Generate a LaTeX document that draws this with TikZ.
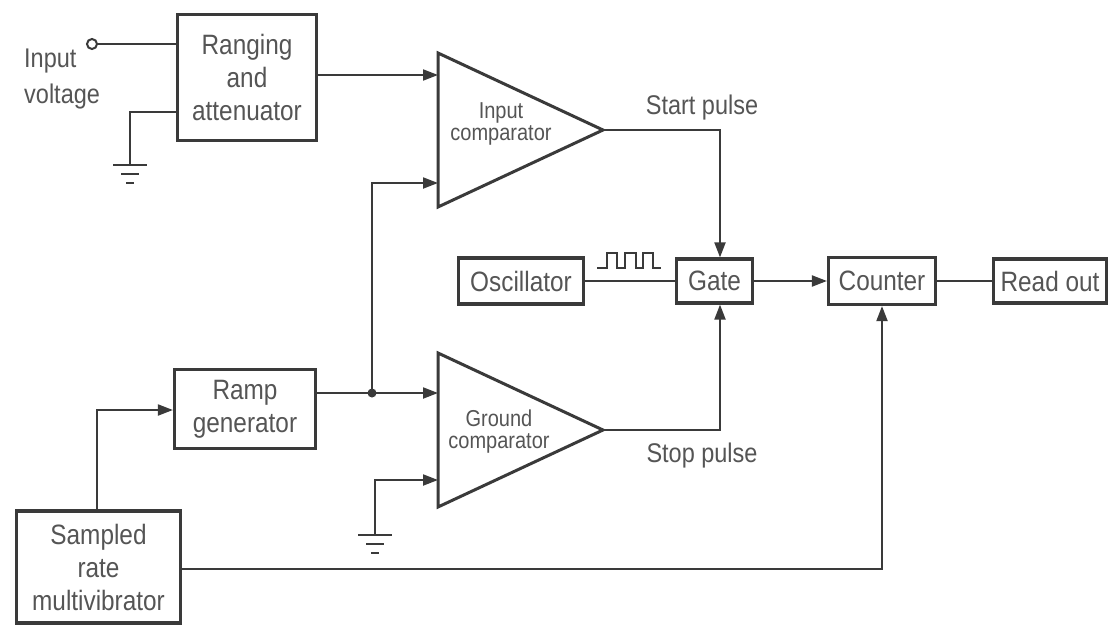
\documentclass[tikz,border=0pt]{standalone}
\usepackage{fontspec}
\setmainfont{Liberation Sans}[FakeStretch=0.87]
\usetikzlibrary{arrows.meta,calc}
\definecolor{ink}{HTML}{3A3A3A}
\definecolor{txt}{HTML}{555555}
\begin{document}
\begin{tikzpicture}[x=1pt,y=-1pt,
  blk/.style={draw=ink,line width=3.2pt,text=txt,align=center,inner sep=0pt,
    font=\fontsize{28}{33}\selectfont},
  wire/.style={draw=ink,line width=2pt},
  arr/.style={wire,-{Triangle[length=15pt,width=11pt]}},
  tri/.style={draw=ink,line width=3pt,line join=miter},
  ctext/.style={text=txt,align=center,inner sep=0pt,font=\fontsize{23}{22}\selectfont},
  lbl/.style={text=txt,inner sep=0pt,font=\fontsize{27}{34}\selectfont},
  gndsym/.pic={
    \draw[ink,line width=2pt] (-17,0) -- (17,0) (-9,9) -- (9,9) (-4,18) -- (4,18);
  }]
\useasboundingbox (0,0) rectangle (1110,626);
\fill[white] (0,0) rectangle (1110,626);

% blocks
\node[blk,minimum width=139,minimum height=126] (ranging) at (247,77.5) {Ranging\\and\\attenuator};
\node[blk,minimum width=141,minimum height=79] (ramp) at (245,409) {Ramp\\generator};
\node[blk,minimum width=164,minimum height=112] (sampled) at (98.5,567) {Sampled\\rate\\multivibrator};
\node[blk,minimum width=125,minimum height=46] (osc) at (521,281) {Oscillator};
\node[blk,minimum width=76,minimum height=44] (gate) at (714.5,281) {Gate};
\node[blk,minimum width=107,minimum height=47] (counter) at (882,281) {Counter};
\node[blk,minimum width=113,minimum height=44] (readout) at (1050,281) {Read out};

% comparators
\coordinate (icA) at (438,53);
\coordinate (icB) at (438,207);
\coordinate (icT) at (603,130);
\draw[tri] (icA) -- (icT) -- (icB) -- cycle;
\node[ctext] (ictext) at (501,124) {Input\\comparator};
\coordinate (icin1) at (438,75);
\coordinate (icin2) at (438,183);

\coordinate (gcA) at (438,353);
\coordinate (gcB) at (438,507);
\coordinate (gcT) at (603,430);
\draw[tri] (gcA) -- (gcT) -- (gcB) -- cycle;
\node[ctext] (gctext) at (499,432) {Ground\\comparator};
\coordinate (gcin1) at (438,393);
\coordinate (gcin2) at (438,480);

% input terminal
\node[circle,draw=ink,line width=2pt,minimum size=10,inner sep=0pt] (term) at (92,44) {};
\node[lbl,anchor=west] (inlbl) at (24,61) {Input};
\node[lbl,anchor=west] (vlbl) at (24,97) {voltage};
\draw[wire] (term.east) -- (term.east -| ranging.west);

% ground of ranging
\coordinate (g1) at (130,165);
\draw[wire] (ranging.west |- 0,112) -- (130,112) -- (g1);
\pic at (g1) {gndsym};

% ranging -> input comparator
\draw[arr] (ranging.east |- icin1) -- (icin1);

% ramp -> junction -> comparators
\coordinate (jn) at (372,393);
\draw[arr] (ramp.east |- gcin1) -- (gcin1);
\draw[arr] (jn) -- (372,183) -- (icin2);
\fill[ink] (jn) circle (4.5);

% ground comparator lower input
\coordinate (g2) at (375,535);
\draw[arr] (g2) -- (375,480) -- (gcin2);
\pic at (g2) {gndsym};

% comparator outputs to gate
\draw[arr] (icT) -- (720,130) -- (720,281 |- gate.north);
\draw[arr] (gcT) -- (720,430) -- (720,281 |- gate.south);
\node[lbl] (start) at (702,108) {Start pulse};
\node[lbl] (stop) at (702,456) {Stop pulse};

% oscillator -> gate
\draw[wire] (osc.east) -- (gate.west);
\draw[ink,line width=2pt,line join=miter] (597,268) -- (607,268) -- (607,253) -- (617,253) -- (617,268)
  -- (625,268) -- (625,253) -- (636,253) -- (636,268) -- (643,268) -- (643,253) -- (653,253)
  -- (653,268) -- (661,268);

% gate -> counter -> readout
\draw[arr] (gate.east) -- (counter.west);
\draw[wire] (counter.east) -- (readout.west);

% sampled rate
\draw[arr] (sampled.north -| 97,0) -- (97,410) -- (ramp.west |- 0,410);
\draw[arr] (sampled.east |- 0,569) -- (882,569) -- (counter.south);
\end{tikzpicture}
\end{document}
